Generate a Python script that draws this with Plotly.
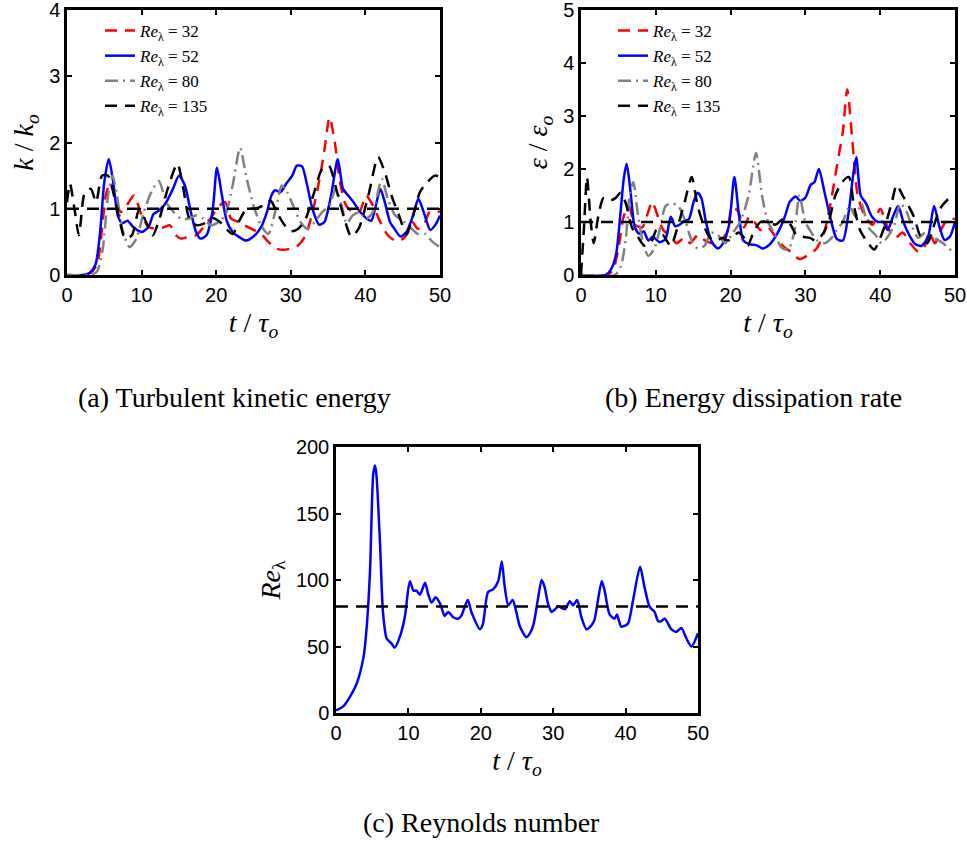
import plotly.graph_objects as go

# ---------------- data ----------------
# Panel (a): k/k_o vs t/tau_o
k_re32 = [(0,0),(2,0),(3,0.02),(4,0.15),(4.6,0.6),(5.2,1.2),(5.8,1.4),(6.4,1.2),(7.2,0.95),(8,1.05),(9,1.2),
          (10,0.9),(11,0.72),(12,0.7),(13,0.72),(13.8,0.75),(14.6,0.6),(15.3,0.55),(16.3,0.58),(17.3,0.6),
          (18.5,0.75),(19.5,0.9),(20.5,1.05),(21.2,1.1),(22,0.85),(23,0.8),(23.8,0.75),(25,0.68),(26,0.62),
          (27,0.5),(28,0.4),(29,0.38),(30,0.4),(31,0.45),(32,0.6),(32.8,0.9),(33.6,1.3),(34.4,1.8),(35.2,2.38),
          (35.9,2.0),(36.6,1.4),(37.4,1.05),(38.3,0.95),(39.2,0.95),(40.1,1.2),(41,1.05),(42,0.8),(43,0.6),
          (44,0.52),(44.8,0.53),(45.6,0.62),(46.3,0.8),(47,0.7),(47.8,0.75),(48.6,0.95),(49.4,0.97),(50,0.95)]
k_re52 = [(0,0),(2,0),(3,0.03),(3.8,0.15),(4.4,0.6),(5,1.4),(5.6,1.75),(6.2,1.4),(6.8,0.9),(7.4,0.78),(8.1,0.82),
          (8.9,0.72),(10,0.65),(10.9,0.72),(11.6,0.92),(12.3,0.97),(13.2,1.08),(14.2,1.3),(15,1.5),(15.8,1.35),
          (16.6,0.95),(17.3,0.65),(17.9,0.55),(18.7,0.6),(19.5,0.95),(20.1,1.62),(20.7,1.25),(21.4,0.82),
          (22.2,0.65),(23,0.58),(24,0.52),(25,0.58),(26,0.72),(26.8,0.95),(27.4,1.2),(27.9,1.28),(28.6,1.25),
          (29.4,1.38),(30.2,1.5),(30.8,1.65),(31.5,1.64),(32.1,1.4),(32.9,1.0),(33.8,0.76),(34.5,0.8),(35.4,1.2),
          (36.3,1.75),(37,1.3),(37.7,1.2),(38.4,1.1),(39.3,0.95),(40.2,0.85),(40.8,0.82),(41.4,1.05),(42,1.3),
          (42.6,1.1),(43.3,0.8),(44,0.68),(44.7,0.58),(45.5,0.65),(46.4,0.9),(47.1,1.15),(47.9,0.92),(48.7,0.68),
          (49.4,0.76),(50,0.9)]
k_re80 = [(0,0),(3,0),(4,0.05),(4.8,0.4),(5.5,1.2),(6.1,1.5),(6.7,1.2),(7.4,0.7),(8.4,0.42),(9.3,0.55),(10.3,0.95),
          (11.3,1.25),(12.3,1.42),(13.3,1.1),(14.3,0.95),(15.3,0.85),(16.3,0.85),(17.3,0.9),(18.3,0.85),(19.3,0.75),
          (20.3,0.8),(21.2,0.9),(22.2,1.35),(23.2,1.92),(24,1.5),(25,1.05),(26,0.75),(27,0.62),(28,1.0),(28.8,1.35),
          (29.5,1.25),(30.5,1.0),(31.3,0.8),(32.2,0.7),(33.2,0.8),(34.2,0.95),(35.2,1.05),(36,1.3),(36.8,1.05),
          (37.5,0.78),(38.3,0.9),(39.2,0.95),(40.1,0.85),(41,0.95),(42.2,1.45),(43,1.15),(44,0.9),(45,0.82),
          (46,0.72),(47,0.62),(48,0.62),(49,0.5),(50,0.42)]
k_re135 = [(0,1.1),(0.4,1.38),(1,1.0),(1.6,0.6),(2.4,1.25),(3.2,1.3),(3.9,1.1),(4.7,1.5),(5.5,1.5),(6.3,1.2),(7,0.85),
           (7.8,0.55),(8.7,0.6),(9.7,1.0),(10.6,0.8),(11.5,0.6),(12.4,0.85),(13.5,1.3),(14.8,1.68),(15.6,1.3),
           (16.4,0.85),(17.4,0.75),(18.4,0.78),(19.5,0.86),(20.5,0.8),(21.3,0.7),(22.2,0.62),(23.1,0.82),(24.1,1.0),
           (25.2,1.0),(26.3,1.05),(27.3,1.12),(28.1,0.95),(29,0.78),(30,0.66),(31,0.7),(32,0.85),(33,1.2),(34.2,1.6),
           (35.1,1.65),(36.2,1.25),(37.1,0.88),(38.1,0.58),(39.1,0.7),(40.4,1.2),(41.7,1.78),(42.6,1.55),(43.5,1.2),
           (44.5,0.9),(45.5,0.62),(46.4,0.9),(47.3,1.25),(48.3,1.4),(49.3,1.5),(50,1.48)]

# Panel (b): eps/eps_o vs t/tau_o
e_re32 = [(0,0),(3.5,0),(4.3,0.1),(5,0.5),(5.7,1.1),(6.4,1.3),(7.2,0.95),(8.2,0.9),(9,1.2),(9.5,1.38),(10.3,1.1),
          (11,0.85),(11.8,0.75),(12.8,0.6),(13.8,0.7),(14.6,0.6),(15.6,0.75),(16.6,0.65),(17.6,0.6),(18.6,0.65),
          (19.5,0.8),(20.2,1.3),(21,1.2),(21.8,0.9),(22.5,1.1),(23.2,1.0),(24,0.85),(25,0.9),(26,0.72),(27,0.55),
          (28.2,0.42),(29.2,0.3),(30.4,0.38),(31.5,0.5),(32.5,0.8),(33.3,1.3),(34.2,2.05),(35,2.7),(35.6,3.5),
          (36.3,2.5),(37,1.5),(38,1.1),(39,0.95),(40,1.25),(41,0.9),(42,0.7),(43,0.8),(44,0.6),(45,0.45),
          (45.8,0.5),(46.6,0.8),(47.3,0.6),(48.3,0.9),(49.2,1.07),(50,1.05)]
e_re52 = [(0,0),(3.3,0),(4,0.1),(4.7,0.4),(5.3,1.2),(5.7,1.8),(6.1,2.1),(6.6,1.6),(7.2,0.9),(7.8,0.78),(8.4,0.82),
          (9,0.65),(9.6,0.72),(10.5,0.62),(11.3,0.68),(12,1.1),(12.6,0.92),(13.2,0.95),(13.8,1.02),(14.4,1.05),
          (15.1,1.4),(15.6,1.55),(16.1,1.45),(16.7,1.0),(17.5,0.62),(18.3,0.5),(19,0.6),(19.8,0.95),(20.5,1.85),
          (21.1,1.15),(21.7,0.65),(22.5,0.58),(23.5,0.56),(24.3,0.5),(25.1,0.56),(25.8,0.68),(26.6,0.88),(27.3,1.12),
          (27.9,1.38),(28.7,1.48),(29.3,1.4),(30,1.46),(30.7,1.7),(31.2,1.75),(31.8,2.0),(32.5,1.6),(33.3,1.1),
          (34.2,0.68),(35,0.65),(35.8,1.2),(36.4,1.9),(36.8,2.22),(37.4,1.5),(38.1,1.35),(38.9,1.1),(39.7,1.0),
          (40.4,1.0),(41,0.85),(41.7,1.1),(42.4,1.3),(43.1,1.0),(43.9,0.75),(44.7,0.58),(45.5,0.55),(46.4,0.72),
          (47.2,1.3),(47.9,0.92),(48.6,0.66),(49.3,0.72),(50,1.0)]
e_re80 = [(0,0),(4.5,0),(5.3,0.15),(6,0.7),(6.5,1.5),(7,1.75),(7.6,1.15),(8.3,0.6),(9,0.36),(9.8,0.5),(10.6,0.9),
          (11.3,1.3),(12.1,1.35),(13,1.3),(14,1.0),(14.8,0.65),(15.6,0.5),(16.5,0.55),(17.4,0.8),(18.3,0.75),
          (19.3,0.6),(20.3,0.8),(21.3,1.0),(22.4,1.5),(23.4,2.3),(24.2,1.5),(25,1.0),(25.8,0.8),(26.8,0.52),
          (27.7,0.48),(28.5,0.8),(29.2,1.5),(30,1.0),(30.8,0.8),(31.6,0.65),(32.6,0.6),(33.5,0.7),(34.2,0.85),
          (35,1.0),(35.9,1.3),(36.7,1.1),(37.5,1.35),(38.4,0.9),(39.4,0.75),(40.2,0.6),(41,0.72),(41.9,0.95),
          (42.7,1.35),(43.5,1.2),(44.3,0.9),(45.1,0.7),(46,0.8),(47,0.72),(48.2,0.62),(49.2,0.5),(50,0.4)]
e_re135 = [(0,0),(0.4,0.9),(0.8,1.85),(1.3,1.0),(1.7,0.6),(2.3,1.1),(3,1.45),(3.8,1.4),(4.6,1.45),(5.3,1.55),
           (6,1.35),(6.8,0.9),(7.6,0.72),(8.5,0.55),(9.4,0.62),(10.1,0.85),(11,0.75),(12,0.55),(12.8,0.85),
           (13.9,1.4),(14.8,1.85),(15.6,1.3),(16.5,0.9),(17.3,0.7),(18.1,0.65),(18.9,0.7),(19.6,0.65),(20.3,0.7),
           (21,0.8),(21.7,0.72),(22.3,0.55),(23.1,0.82),(24,1.0),(25,1.0),(26,0.95),(27,1.05),(28,0.95),(28.8,0.75),
           (29.7,0.72),(30.6,0.7),(31.4,0.65),(32.2,0.75),(33.1,1.0),(34,1.5),(34.9,1.75),(35.8,1.85),(36.5,1.3),
           (37.3,0.85),(38.4,0.6),(39.2,0.48),(40,0.7),(40.8,1.0),(41.6,1.4),(42.2,1.7),(43,1.5),(43.8,1.3),
           (44.5,1.1),(45.4,0.72),(46.3,0.6),(47.1,0.9),(48,1.25),(49,1.42),(50,1.52)]

# Panel (c): Re_lambda vs t/tau_o
re_lambda = [(0,2),(1,5),(1.9,12),(2.85,22),(3.8,42),(4.2,62),(4.7,107),(5.15,180),(5.4,186),(5.6,178),(6.1,125),
             (6.5,75),(7,56),(7.7,52),(8.1,49),(8.8,57),(9.5,72),(10.2,99),(10.7,92),(11.1,92),(11.6,89),(12.3,98),
             (12.7,90),(13.2,83),(13.75,87),(14.4,82),(15,73),(15.5,76),(16.2,72),(16.9,71),(17.3,73),(18.2,85),
             (18.7,76),(19.9,63),(20.3,67),(21,91),(21.7,93),(22.4,99),(22.9,114),(23.3,95),(23.8,81),(24.4,85),
             (24.9,76),(25.4,65),(26.3,57),(26.8,60),(27.3,67),(27.9,86),(28.4,100),(28.8,95),(29.3,82),(29.8,76),
             (30.7,80),(31.6,78),(32.3,84),(32.75,81),(33.3,85),(33.9,72),(34.6,63),(35.3,66),(35.7,70),(36.7,99),
             (37.1,92),(37.8,74),(38.5,71),(38.8,74),(39.4,65),(40.3,67),(41,84),(42,110),(42.6,95),(43.3,80),
             (44,76),(44.5,69),(44.9,69),(45.4,71),(46.3,63),(47,61),(47.7,64),(48.4,56),(49.1,50),(50,60)]

reference_k = 1.0
reference_eps = 1.0
reference_re = 80.0
t_range = [0, 50]

series_names = ["<i>Re</i><sub>λ</sub> = 32", "<i>Re</i><sub>λ</sub> = 52",
                "<i>Re</i><sub>λ</sub> = 80", "<i>Re</i><sub>λ</sub> = 135"]

# ---------------- styling ----------------
styles = [
    dict(color="#ff0000", width=2.5, dash="12px,8px"),
    dict(color="#0000ff", width=2.5, dash="solid"),
    dict(color="#808080", width=2.5, dash="13px,5px,2px,5px"),
    dict(color="#000000", width=2.5, dash="12px,8px"),
]
TICKFONT = dict(family="Liberation Sans, Arial, sans-serif", size=20, color="black")
SERIF = "Liberation Serif, Times New Roman, serif"
TITLEFONT = dict(family=SERIF, size=28, color="black")

W, H = 967, 852
def px_x(a, b):
    return [a / W, b / W]
def px_y(top, bottom):
    return [1 - bottom / H, 1 - top / H]

fig = go.Figure()

def unzip(pairs):
    return [p[0] for p in pairs], [p[1] for p in pairs]

def add_panel(series, xa, ya, legend_name, ref):
    for name, data, st in zip(series_names, series, styles):
        t, v = unzip(data)
        fig.add_trace(go.Scatter(x=t, y=v, mode="lines", name=name, xaxis=xa, yaxis=ya,
                                 line=dict(color=st["color"], width=st["width"], dash=st["dash"],
                                           shape="spline", smoothing=0.7),
                                 legend=legend_name, showlegend=True))
    fig.add_trace(go.Scatter(x=t_range, y=[ref, ref], mode="lines", xaxis=xa, yaxis=ya, showlegend=False,
                             line=dict(color="black", width=2.5, dash="12px,8px")))

add_panel([k_re32, k_re52, k_re80, k_re135], "x", "y", "legend", reference_k)
add_panel([e_re32, e_re52, e_re80, e_re135], "x2", "y2", "legend2", reference_eps)

t_c, re_c = unzip(re_lambda)
fig.add_trace(go.Scatter(x=t_c, y=re_c, mode="lines", xaxis="x3", yaxis="y3", showlegend=False,
                         line=dict(color="#0000ff", width=2.5, shape="spline", smoothing=0.7)))
fig.add_trace(go.Scatter(x=t_range, y=[reference_re, reference_re], mode="lines", xaxis="x3", yaxis="y3",
                         showlegend=False, line=dict(color="black", width=2.5, dash="12px,8px")))

def axis(domain, rng, dtick, anchor, title):
    return dict(domain=domain, range=rng, dtick=dtick, tick0=0, anchor=anchor, showline=True, linecolor="black",
                linewidth=2.5, mirror="ticks", ticks="inside", ticklen=5, tickwidth=2, tickcolor="black",
                showgrid=False, zeroline=False, tickfont=TICKFONT, automargin=False,
                ticklabeloverflow="allow",
                title=dict(text=title, font=TITLEFONT, standoff=8))

t_title = "<i>t</i> / <i>τ</i><sub><i>o</i></sub>"
LEGFONT = dict(family=SERIF, size=17, color="black")
fig.update_layout(
    width=W, height=H, margin=dict(l=0, r=0, t=0, b=0),
    plot_bgcolor="white", paper_bgcolor="white",
    xaxis=axis(px_x(67, 440), t_range, 10, "y", t_title),
    yaxis=axis(px_y(10, 275), [0, 4], 1, "x", "<i>k</i> / <i>k</i><sub><i>o</i></sub>"),
    xaxis2=axis(px_x(581, 955), t_range, 10, "y2", t_title),
    yaxis2=axis(px_y(10, 275), [0, 5], 1, "x2", "<i>ε</i> / <i>ε</i><sub><i>o</i></sub>"),
    xaxis3=axis(px_x(336, 698), t_range, 10, "y3", t_title),
    yaxis3=axis(px_y(447, 713), [0, 200], 50, "x3", "<i>Re</i><sub>λ</sub>"),
    legend=dict(x=100 / W, y=1 - 13 / H, xanchor="left", yanchor="top", bgcolor="rgba(0,0,0,0)",
                font=LEGFONT, tracegroupgap=0),
    legend2=dict(x=613 / W, y=1 - 13 / H, xanchor="left", yanchor="top", bgcolor="rgba(0,0,0,0)",
                 font=LEGFONT, tracegroupgap=0),
    annotations=[
        dict(text="(a) Turbulent kinetic energy", x=234 / W, y=1 - 397 / H, xref="paper", yref="paper",
             showarrow=False, xanchor="center", yanchor="middle", font=dict(family=SERIF, size=28, color="black")),
        dict(text="(b) Energy dissipation rate", x=753 / W, y=1 - 397 / H, xref="paper", yref="paper",
             showarrow=False, xanchor="center", yanchor="middle", font=dict(family=SERIF, size=28, color="black")),
        dict(text="(c) Reynolds number", x=481 / W, y=1 - 822 / H, xref="paper", yref="paper",
             showarrow=False, xanchor="center", yanchor="middle", font=dict(family=SERIF, size=28, color="black")),
    ],
)

fig.write_html("out.html")
